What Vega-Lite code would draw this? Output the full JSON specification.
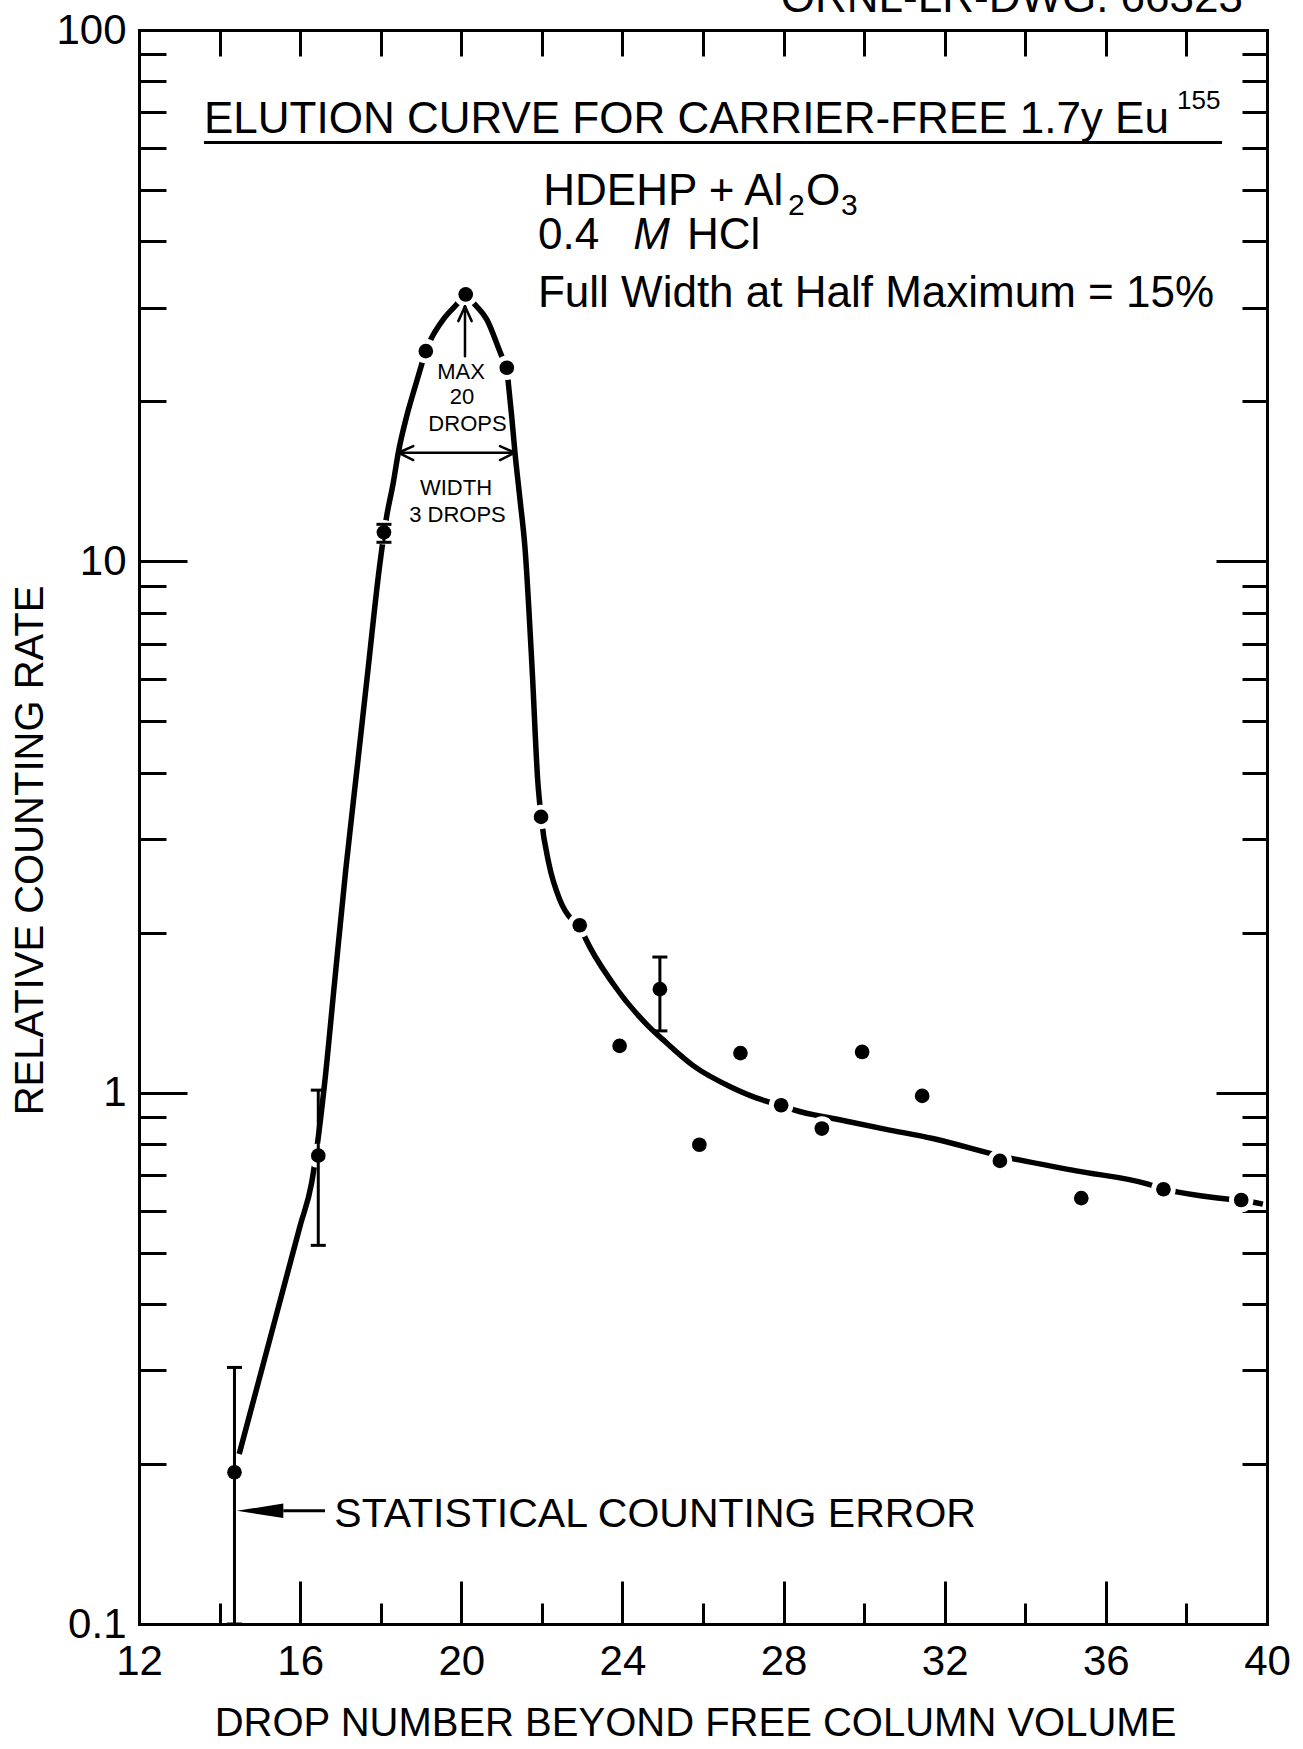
{
  "$schema": "https://vega.github.io/schema/vega-lite/v6.json",
  "width": 1128,
  "height": 1594,
  "autosize": {"type": "none"},
  "padding": {"left": 139, "top": 30, "right": 36, "bottom": 125},
  "background": "white",
  "config": {
    "view": {"stroke": null},
    "axis": {
      "domainColor": "black", "domainWidth": 3, "domainCap": "square",
      "tickColor": "black", "tickWidth": 3,
      "labelColor": "black", "labelFont": "Liberation Sans", "labelFontSize": 42,
      "titleColor": "black", "titleFont": "Liberation Sans", "titleFontSize": 40, "titleFontWeight": "normal",
      "grid": false, "zindex": 1, "labelFlush": false, "labelOverlap": false, "labelBound": false
    },
    "text": {"font": "Liberation Sans", "color": "black"}
  },
  "datasets": {
    "pts": [
      {"drop": 14.37, "rate": 0.193},
      {"drop": 16.45, "rate": 0.761},
      {"drop": 18.08, "rate": 11.34},
      {"drop": 19.12, "rate": 24.87},
      {"drop": 20.11, "rate": 31.79},
      {"drop": 21.13, "rate": 23.14},
      {"drop": 21.98, "rate": 3.304},
      {"drop": 22.94, "rate": 2.066},
      {"drop": 23.93, "rate": 1.225},
      {"drop": 24.93, "rate": 1.566},
      {"drop": 25.91, "rate": 0.798},
      {"drop": 26.93, "rate": 1.187},
      {"drop": 27.94, "rate": 0.947},
      {"drop": 28.95, "rate": 0.856},
      {"drop": 29.95, "rate": 1.193},
      {"drop": 31.44, "rate": 0.986},
      {"drop": 33.37, "rate": 0.744},
      {"drop": 35.39, "rate": 0.633},
      {"drop": 37.43, "rate": 0.658},
      {"drop": 39.36, "rate": 0.628}
    ],
    "curve": [
      {"drop": 14.487, "rate": 0.2089},
      {"drop": 15.388, "rate": 0.3764},
      {"drop": 15.996, "rate": 0.5604},
      {"drop": 16.287, "rate": 0.6776},
      {"drop": 16.607, "rate": 1.040},
      {"drop": 16.858, "rate": 1.623},
      {"drop": 17.133, "rate": 2.631},
      {"drop": 17.411, "rate": 4.064},
      {"drop": 17.687, "rate": 6.28},
      {"drop": 17.965, "rate": 9.70},
      {"drop": 18.149, "rate": 12.17},
      {"drop": 18.312, "rate": 14.06},
      {"drop": 18.436, "rate": 16.01},
      {"drop": 18.645, "rate": 18.76},
      {"drop": 18.809, "rate": 20.77},
      {"drop": 19.017, "rate": 23.48},
      {"drop": 19.117, "rate": 24.87},
      {"drop": 19.223, "rate": 25.97},
      {"drop": 19.553, "rate": 28.53},
      {"drop": 19.886, "rate": 30.44},
      {"drop": 20.110, "rate": 31.79},
      {"drop": 20.298, "rate": 30.67},
      {"drop": 20.631, "rate": 28.53},
      {"drop": 21.003, "rate": 24.34},
      {"drop": 21.127, "rate": 23.14},
      {"drop": 21.167, "rate": 21.69},
      {"drop": 21.251, "rate": 18.76},
      {"drop": 21.333, "rate": 16.01},
      {"drop": 21.457, "rate": 13.08},
      {"drop": 21.581, "rate": 10.61},
      {"drop": 21.758, "rate": 6.28},
      {"drop": 21.897, "rate": 3.875},
      {"drop": 21.981, "rate": 3.304},
      {"drop": 22.175, "rate": 2.696},
      {"drop": 22.440, "rate": 2.312},
      {"drop": 22.736, "rate": 2.120},
      {"drop": 22.939, "rate": 2.066},
      {"drop": 23.093, "rate": 1.944},
      {"drop": 23.746, "rate": 1.612},
      {"drop": 24.637, "rate": 1.336},
      {"drop": 24.992, "rate": 1.261},
      {"drop": 25.764, "rate": 1.123},
      {"drop": 26.715, "rate": 1.023},
      {"drop": 27.546, "rate": 0.965},
      {"drop": 27.939, "rate": 0.947},
      {"drop": 28.259, "rate": 0.928},
      {"drop": 29.329, "rate": 0.891},
      {"drop": 30.515, "rate": 0.854},
      {"drop": 31.704, "rate": 0.820},
      {"drop": 33.367, "rate": 0.7606},
      {"drop": 35.266, "rate": 0.7126},
      {"drop": 37.048, "rate": 0.6727},
      {"drop": 37.428, "rate": 0.6583},
      {"drop": 37.761, "rate": 0.6506},
      {"drop": 39.066, "rate": 0.6303},
      {"drop": 39.364, "rate": 0.6275},
      {"drop": 39.898, "rate": 0.6169}
    ],
    "err": [
      {"drop": 14.37, "lo": 0.1, "hi": 0.304},
      {"drop": 16.45, "lo": 0.516, "hi": 1.011},
      {"drop": 18.08, "lo": 10.86, "hi": 11.74},
      {"drop": 24.93, "lo": 1.307, "hi": 1.8}
    ],
    "heads": [
      {"drop": 15.004, "rate": 0.1633}
    ],
    "segs": [
      {"x1": 20.092, "y1": 24.31, "x2": 20.092, "y2": 30.19, "g": "arrow"},
      {"x1": 20.092, "y1": 30.19, "x2": 19.926, "y2": 28.32, "g": "arrow"},
      {"x1": 20.092, "y1": 30.19, "x2": 20.258, "y2": 28.32, "g": "arrow"},
      {"x1": 18.436, "y1": 16.01, "x2": 21.333, "y2": 16.01, "g": "arrow"},
      {"x1": 18.436, "y1": 16.01, "x2": 18.809, "y2": 16.48, "g": "arrow"},
      {"x1": 18.436, "y1": 16.01, "x2": 18.809, "y2": 15.51, "g": "arrow"},
      {"x1": 21.333, "y1": 16.01, "x2": 20.961, "y2": 16.48, "g": "arrow"},
      {"x1": 21.333, "y1": 16.01, "x2": 20.961, "y2": 15.51, "g": "arrow"},
      {"x1": 13.613, "y1": 61.42, "x2": 38.883, "y2": 61.42, "g": "under"},
      {"x1": 15.582, "y1": 0.1633, "x2": 16.617, "y2": 0.1633, "g": "under"}
    ],
    "notes": [
      {"drop": 13.613, "rate": 63.87, "text": "ELUTION CURVE FOR CARRIER-FREE 1.7y Eu", "g": "title"},
      {"drop": 37.767, "rate": 71.08, "text": "155", "g": "sup"},
      {"drop": 22.036, "rate": 46.9, "text": "HDEHP + Al", "g": "body"},
      {"drop": 28.110, "rate": 44.9, "text": "2", "g": "sub"},
      {"drop": 28.557, "rate": 46.9, "text": "O", "g": "body"},
      {"drop": 29.426, "rate": 44.9, "text": "3", "g": "sub"},
      {"drop": 21.904, "rate": 38.65, "text": "0.4", "g": "body"},
      {"drop": 24.27, "rate": 38.65, "text": "M", "g": "ital"},
      {"drop": 25.60, "rate": 38.65, "text": "HCl", "g": "body"},
      {"drop": 21.904, "rate": 30.07, "text": "Full Width at Half Maximum = 15%", "g": "body"},
      {"drop": 19.993, "rate": 22.73, "text": "MAX", "g": "small"},
      {"drop": 20.018, "rate": 20.35, "text": "20", "g": "small"},
      {"drop": 20.154, "rate": 18.10, "text": "DROPS", "g": "small"},
      {"drop": 19.869, "rate": 13.72, "text": "WIDTH", "g": "small"},
      {"drop": 19.906, "rate": 12.20, "text": "3 DROPS", "g": "small"},
      {"drop": 16.848, "rate": 0.1522, "text": "STATISTICAL COUNTING ERROR", "g": "stat"},
      {"drop": 39.404, "rate": 107.9, "text": "ORNL-LR-DWG. 66323", "g": "dwg"}
    ]
  },
  "resolve": {"axis": {"x": "independent", "y": "independent"}},
  "layer": [
    {
      "data": {"name": "curve"},
      "mark": {"type": "line", "color": "black", "strokeWidth": 5.5, "interpolate": "monotone"},
      "encoding": {
        "x": {"field": "drop", "type": "quantitative",
              "scale": {"type": "linear", "domain": [12, 40], "nice": false, "zero": false},
              "axis": {"orient": "bottom", "values": [12, 16, 20, 24, 28, 32, 36, 40], "tickSize": -43, "labelPadding": 60.5,
                       "domain": true, "title": "DROP NUMBER BEYOND FREE COLUMN VOLUME",
                       "titleX": 556, "titleY": 99.5, "titleAlign": "center", "titleBaseline": "middle"}},
        "y": {"field": "rate", "type": "quantitative",
              "scale": {"type": "log", "domain": [0.1, 100], "nice": false},
              "axis": {"orient": "left", "values": [0.1, 1, 10, 100], "tickSize": -48, "labelPadding": 61,
                       "labelExpr": "datum.value < 0.5 ? '0.1' : format(datum.value, 'd')",
                       "domain": true, "title": "RELATIVE COUNTING RATE",
                       "titleX": -109, "titleY": 820, "titleAngle": -90, "titleAlign": "center", "titleBaseline": "middle"}}
      }
    },
    {
      "data": {"name": "pts"},
      "mark": {"type": "point", "opacity": 0},
      "encoding": {
        "x": {"field": "drop", "type": "quantitative",
              "scale": {"type": "linear", "domain": [12, 40], "nice": false, "zero": false},
              "axis": {"orient": "bottom", "values": [14, 18, 22, 26, 30, 34, 38], "tickSize": -21, "labels": false, "domain": false, "title": null}},
        "y": {"field": "rate", "type": "quantitative",
              "scale": {"type": "log", "domain": [0.1, 100], "nice": false},
              "axis": {"orient": "left", "values": [0.2, 0.3, 0.4, 0.5, 0.6, 0.7, 0.8, 0.9, 2, 3, 4, 5, 6, 7, 8, 9, 20, 30, 40, 50, 60, 70, 80, 90],
                       "tickSize": -27, "labels": false, "domain": false, "title": null}}
      }
    },
    {
      "data": {"name": "pts"},
      "mark": {"type": "point", "opacity": 0},
      "encoding": {
        "x": {"field": "drop", "type": "quantitative",
              "scale": {"type": "linear", "domain": [12, 40], "nice": false, "zero": false},
              "axis": {"orient": "top", "values": [14, 16, 18, 20, 22, 24, 26, 28, 30, 32, 34, 36, 38], "tickSize": -26, "labels": false, "domain": true, "title": null}},
        "y": {"field": "rate", "type": "quantitative",
              "scale": {"type": "log", "domain": [0.1, 100], "nice": false},
              "axis": {"orient": "right", "values": [1, 10], "tickSize": -51, "labels": false, "domain": true, "title": null}}
      }
    },
    {
      "data": {"name": "pts"},
      "mark": {"type": "point", "opacity": 0},
      "encoding": {
        "x": {"field": "drop", "type": "quantitative",
              "scale": {"type": "linear", "domain": [12, 40], "nice": false, "zero": false}, "axis": null},
        "y": {"field": "rate", "type": "quantitative",
              "scale": {"type": "log", "domain": [0.1, 100], "nice": false},
              "axis": {"orient": "right", "values": [0.2, 0.3, 0.4, 0.5, 0.6, 0.7, 0.8, 0.9, 2, 3, 4, 5, 6, 7, 8, 9, 20, 30, 40, 50, 60, 70, 80, 90],
                       "tickSize": -25, "labels": false, "domain": false, "title": null}}
      }
    },
    {
      "data": {"name": "pts"},
      "mark": {"type": "circle", "size": 600, "color": "white", "opacity": 1},
      "encoding": {
        "x": {"field": "drop", "type": "quantitative", "axis": null},
        "y": {"field": "rate", "type": "quantitative", "axis": null}
      }
    },
    {
      "data": {"name": "err"},
      "mark": {"type": "rule", "color": "black", "strokeWidth": 3},
      "encoding": {
        "x": {"field": "drop", "type": "quantitative", "axis": null},
        "y": {"field": "lo", "type": "quantitative", "axis": null},
        "y2": {"field": "hi"}
      }
    },
    {
      "data": {"name": "err"},
      "mark": {"type": "tick", "orient": "horizontal", "color": "black", "size": 15, "thickness": 3, "opacity": 1},
      "encoding": {
        "x": {"field": "drop", "type": "quantitative", "axis": null},
        "y": {"field": "lo", "type": "quantitative", "axis": null}
      }
    },
    {
      "data": {"name": "err"},
      "mark": {"type": "tick", "orient": "horizontal", "color": "black", "size": 15, "thickness": 3, "opacity": 1},
      "encoding": {
        "x": {"field": "drop", "type": "quantitative", "axis": null},
        "y": {"field": "hi", "type": "quantitative", "axis": null}
      }
    },
    {
      "data": {"name": "pts"},
      "mark": {"type": "circle", "size": 215, "color": "black", "opacity": 1},
      "encoding": {
        "x": {"field": "drop", "type": "quantitative", "axis": null},
        "y": {"field": "rate", "type": "quantitative", "axis": null}
      }
    },
    {
      "data": {"name": "segs"},
      "transform": [{"filter": "datum.g === 'arrow'"}],
      "mark": {"type": "rule", "color": "black", "strokeWidth": 2.5, "strokeCap": "round"},
      "encoding": {
        "x": {"field": "x1", "type": "quantitative", "axis": null},
        "y": {"field": "y1", "type": "quantitative", "axis": null},
        "x2": {"field": "x2"},
        "y2": {"field": "y2"}
      }
    },
    {
      "data": {"name": "segs"},
      "transform": [{"filter": "datum.g === 'under'"}],
      "mark": {"type": "rule", "color": "black", "strokeWidth": 3},
      "encoding": {
        "x": {"field": "x1", "type": "quantitative", "axis": null},
        "y": {"field": "y1", "type": "quantitative", "axis": null},
        "x2": {"field": "x2"},
        "y2": {"field": "y2"}
      }
    },
    {
      "data": {"name": "heads"},
      "mark": {"type": "point", "shape": "M-1,0L1,-0.31L1,0.31Z", "size": 2172, "filled": true, "color": "black", "opacity": 1, "strokeWidth": 0},
      "encoding": {
        "x": {"field": "drop", "type": "quantitative", "axis": null},
        "y": {"field": "rate", "type": "quantitative", "axis": null}
      }
    },
    {
      "data": {"name": "notes"},
      "transform": [{"filter": "datum.g === 'title'"}],
      "mark": {"type": "text", "fontSize": 44, "align": "left", "baseline": "alphabetic"},
      "encoding": {
        "x": {"field": "drop", "type": "quantitative", "axis": null},
        "y": {"field": "rate", "type": "quantitative", "axis": null},
        "text": {"field": "text"}
      }
    },
    {
      "data": {"name": "notes"},
      "transform": [{"filter": "datum.g === 'sup'"}],
      "mark": {"type": "text", "fontSize": 26, "align": "left", "baseline": "alphabetic"},
      "encoding": {
        "x": {"field": "drop", "type": "quantitative", "axis": null},
        "y": {"field": "rate", "type": "quantitative", "axis": null},
        "text": {"field": "text"}
      }
    },
    {
      "data": {"name": "notes"},
      "transform": [{"filter": "datum.g === 'body'"}],
      "mark": {"type": "text", "fontSize": 44, "align": "left", "baseline": "alphabetic"},
      "encoding": {
        "x": {"field": "drop", "type": "quantitative", "axis": null},
        "y": {"field": "rate", "type": "quantitative", "axis": null},
        "text": {"field": "text"}
      }
    },
    {
      "data": {"name": "notes"},
      "transform": [{"filter": "datum.g === 'sub'"}],
      "mark": {"type": "text", "fontSize": 30, "align": "left", "baseline": "alphabetic"},
      "encoding": {
        "x": {"field": "drop", "type": "quantitative", "axis": null},
        "y": {"field": "rate", "type": "quantitative", "axis": null},
        "text": {"field": "text"}
      }
    },
    {
      "data": {"name": "notes"},
      "transform": [{"filter": "datum.g === 'ital'"}],
      "mark": {"type": "text", "fontSize": 44, "fontStyle": "italic", "align": "left", "baseline": "alphabetic"},
      "encoding": {
        "x": {"field": "drop", "type": "quantitative", "axis": null},
        "y": {"field": "rate", "type": "quantitative", "axis": null},
        "text": {"field": "text"}
      }
    },
    {
      "data": {"name": "notes"},
      "transform": [{"filter": "datum.g === 'small'"}],
      "mark": {"type": "text", "fontSize": 22, "align": "center", "baseline": "middle"},
      "encoding": {
        "x": {"field": "drop", "type": "quantitative", "axis": null},
        "y": {"field": "rate", "type": "quantitative", "axis": null},
        "text": {"field": "text"}
      }
    },
    {
      "data": {"name": "notes"},
      "transform": [{"filter": "datum.g === 'stat'"}],
      "mark": {"type": "text", "fontSize": 41, "align": "left", "baseline": "alphabetic"},
      "encoding": {
        "x": {"field": "drop", "type": "quantitative", "axis": null},
        "y": {"field": "rate", "type": "quantitative", "axis": null},
        "text": {"field": "text"}
      }
    },
    {
      "data": {"name": "notes"},
      "transform": [{"filter": "datum.g === 'dwg'"}],
      "mark": {"type": "text", "fontSize": 44, "align": "right", "baseline": "alphabetic"},
      "encoding": {
        "x": {"field": "drop", "type": "quantitative", "axis": null},
        "y": {"field": "rate", "type": "quantitative", "axis": null},
        "text": {"field": "text"}
      }
    }
  ]
}
